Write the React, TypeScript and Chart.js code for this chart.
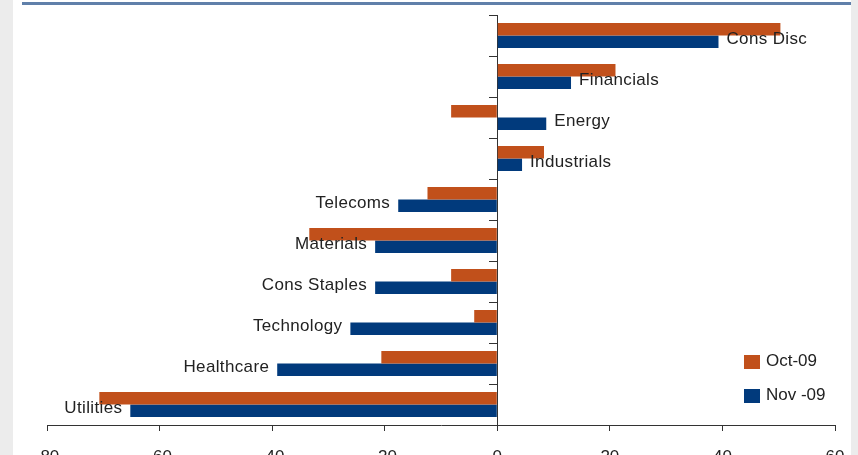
import React, { useEffect, useRef } from 'react';
import { Chart, registerables } from 'chart.js';

Chart.register(...registerables);

const categories = ['Cons Disc', 'Financials', 'Energy', 'Industrials', 'Telecoms', 'Materials', 'Cons Staples', 'Technology', 'Healthcare', 'Utilities'];
const oct09 = [50.3, 21.0, -8.2, 8.3, -12.4, -33.4, -8.2, -4.1, -20.6, -70.7];
const nov09 = [39.3, 13.1, 8.7, 4.4, -17.6, -21.7, -21.7, -26.1, -39.1, -65.2];
const seriesNames = ['Oct-09', 'Nov -09'];
const xMin = -80;
const xMax = 60;
const xStep = 20;

const ORANGE = '#c1501b';
const BLUE = '#013a7c';
const FONT = '"Liberation Sans", Arial, sans-serif';

const labelPlugin = {
  id: 'barLabels',
  afterDatasetsDraw(chart: any) {
    const ctx = chart.ctx;
    const meta = chart.getDatasetMeta(1);
    ctx.save();
    ctx.font = '17px ' + FONT;
    ctx.fillStyle = '#222';
    ctx.textBaseline = 'middle';
    try { ctx.letterSpacing = '0.35px'; } catch (e) {}
    meta.data.forEach((bar: any, i: number) => {
      const { x, y } = bar.getProps(['x', 'y'], true);
      if (nov09[i] >= 0) {
        ctx.textAlign = 'left';
        ctx.fillText(categories[i], x + 8, y - 2);
      } else {
        ctx.textAlign = 'right';
        ctx.fillText(categories[i], x - 8, y - 2);
      }
    });
    try { ctx.letterSpacing = '0px'; } catch (e) {}
    // legend
    const area = chart.chartArea;
    const colors = [ORANGE, BLUE];
    ctx.textAlign = 'left';
    seriesNames.forEach((name, i) => {
      const sx = area.right - 91;
      const sy = area.bottom - 70 + i * 34;
      ctx.fillStyle = colors[i];
      ctx.fillRect(sx, sy, 16, 14);
      ctx.fillStyle = '#222';
      ctx.fillText(name, sx + 22, sy + 6);
    });
    ctx.restore();
  },
};

export default function App() {
  const ref = useRef<HTMLCanvasElement>(null);
  useEffect(() => {
    if (!ref.current) return;
    const chart = new Chart(ref.current, {
      type: 'bar',
      data: {
        labels: categories,
        datasets: [
          { label: seriesNames[0], data: oct09, backgroundColor: ORANGE, categoryPercentage: 0.61, barPercentage: 1 },
          { label: seriesNames[1], data: nov09, backgroundColor: BLUE, categoryPercentage: 0.61, barPercentage: 1 },
        ],
      },
      options: {
        indexAxis: 'y',
        animation: false,
        responsive: false,
        devicePixelRatio: 1,
        layout: { padding: { left: 47, right: 23, top: 15, bottom: 15 } },
        plugins: { legend: { display: false }, tooltip: { enabled: false } },
        scales: {
          x: {
            type: 'linear',
            position: 'bottom',
            min: xMin,
            max: xMax,
            ticks: { stepSize: xStep, color: '#222', font: { size: 17, family: FONT }, padding: 16, maxRotation: 0 },
            grid: { drawOnChartArea: false, drawTicks: true, tickLength: 6, color: '#333' },
            border: { display: true, color: '#333' },
            afterFit: (s: any) => { s.height = 40; s.paddingLeft = 0; s.paddingRight = 0; },
          },
          y: {
            type: 'category',
            position: { x: 0 } as any,
            ticks: { display: false },
            grid: { drawOnChartArea: false, drawTicks: true, tickLength: 8, offset: true, color: '#333' },
            border: { display: true, color: '#333' },
            afterFit: (s: any) => { s.width = 0; },
          },
        },
      },
      plugins: [labelPlugin],
    });
    return () => chart.destroy();
  }, []);

  return (
    <div style={{ position: 'fixed', left: 0, top: 0, width: 858, height: 455, overflow: 'hidden', background: '#ececec' }}>
      <div style={{ position: 'absolute', left: 13, top: 0, width: 838, height: 455, background: '#ffffff' }} />
      <div style={{ position: 'absolute', left: 22, top: 2, width: 829, height: 3, background: '#6080aa' }} />
      <canvas ref={ref} width={858} height={480} style={{ position: 'absolute', left: 0, top: 0, display: 'block' }} />
    </div>
  );
}
